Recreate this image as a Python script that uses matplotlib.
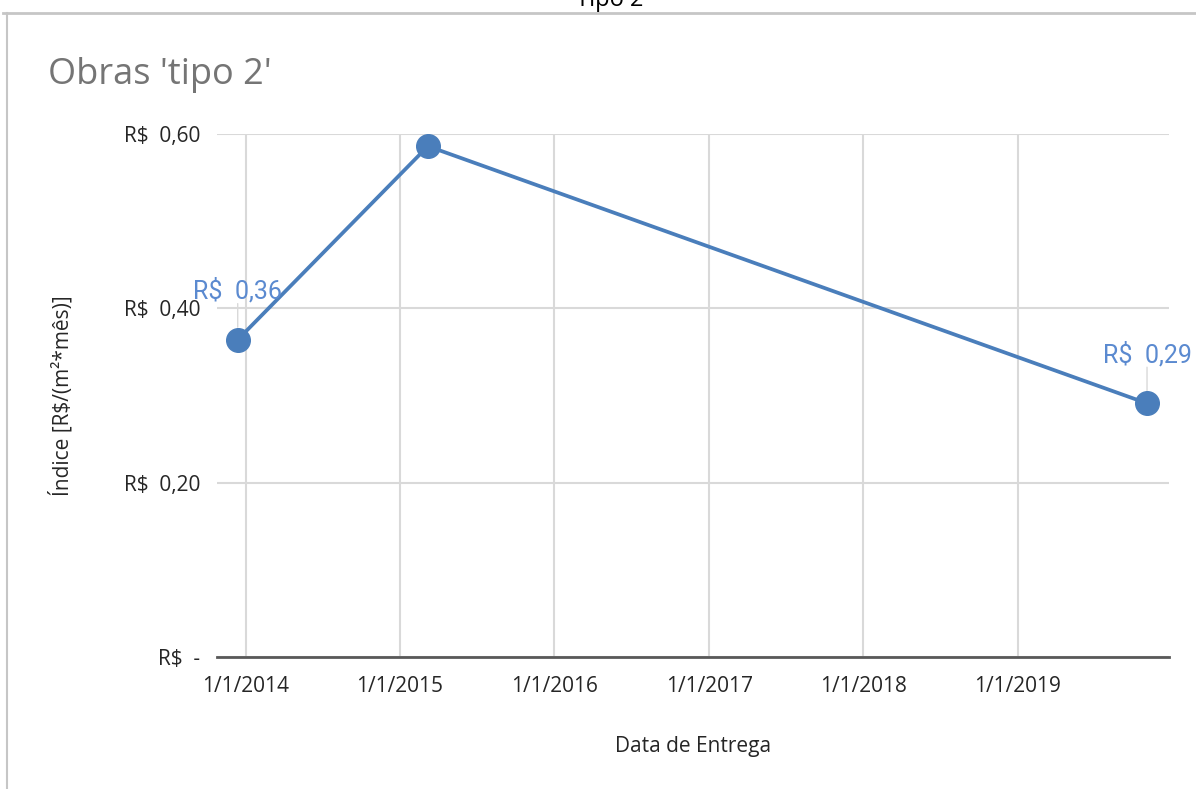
import matplotlib.pyplot as plt
import matplotlib.dates as mdates
import matplotlib.lines as mlines
import pandas as pd

plt.rcParams['font.family'] = ['Open Sans', 'DejaVu Sans']

datas = pd.to_datetime(['2013-12-13', '2015-03-08', '2019-11-03'])
indice = [0.364, 0.586, 0.291]
rotulos = {0: 'R$  0,36', 2: 'R$  0,29'}
anos = pd.to_datetime(['2014-01-01', '2015-01-01', '2016-01-01',
                       '2017-01-01', '2018-01-01', '2019-01-01'])
ticks_y = [0, 0.2, 0.4, 0.6]
labels_y = ['R$  -', 'R$  0,20', 'R$  0,40', 'R$  0,60']

azul = '#4a7ebb'

fig = plt.figure(figsize=(11.96, 7.89), dpi=100)
ax = fig.add_axes([217/1196, 1 - 657/789, (1169-217)/1196, (657-134)/789])

ax.plot(datas, indice, color=azul, lw=2.7, marker='o', ms=17, zorder=3)

for i, txt in rotulos.items():
    ax.annotate(txt, (datas[i], indice[i]), xytext=(0, 26), textcoords='offset points',
                ha='center', va='bottom', color='#5b8ad0', fontsize=18,
                family=['Roboto', 'DejaVu Sans'], zorder=4)
    ax.annotate('', (datas[i], indice[i]), xytext=(0, 26), textcoords='offset points',
                arrowprops=dict(arrowstyle='-', color='#d9d9d9', lw=1,
                                shrinkA=0, shrinkB=9), zorder=2)

ax.set_xlim(pd.Timestamp('2013-10-25'), pd.Timestamp('2019-12-25'))
ax.set_ylim(0, 0.6)
ax.set_xticks(anos)
ax.xaxis.set_major_formatter(mdates.DateFormatter('%-m/%-d/%Y'))
ax.set_yticks(ticks_y)
ax.set_yticklabels(labels_y)
ax.grid(True, color='#d9d9d9', lw=1.5)
ax.set_axisbelow(True)
for s in ['top', 'right', 'left']:
    ax.spines[s].set_visible(False)
ax.spines['bottom'].set_color('#595959')
ax.spines['bottom'].set_linewidth(2)
ax.tick_params(length=0, labelsize=15, colors='#262626', pad=14)
ax.tick_params(axis='y', pad=12)

ax.set_xlabel('Data de Entrega', fontsize=15, color='#262626', labelpad=28)
ax.set_ylabel('Índice [R$/(m²*mês)]', fontsize=15, color='#262626', labelpad=36)

fig.text(48/1196, 1 - 75/789, "Obras 'tipo 2'", fontsize=26, color='#757575', va='center')
fig.text(610/1196, 1.0, 'Tipo 2', fontsize=17, color='black', ha='center', va='center')

fig.add_artist(mlines.Line2D([3/1196, 1], [1 - 13/789] * 2, color='#c6c6c6', lw=2))
fig.add_artist(mlines.Line2D([7/1196] * 2, [0, 1 - 13/789], color='#c6c6c6', lw=1.5))

fig.savefig('out.png', dpi=100)
